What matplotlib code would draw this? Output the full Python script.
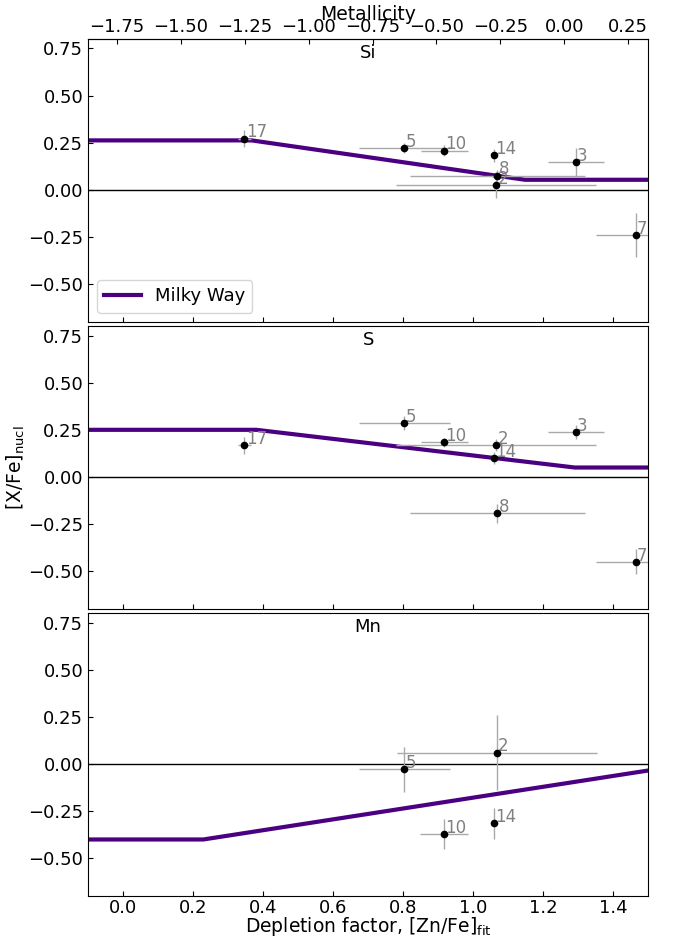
import numpy as np
import matplotlib
matplotlib.use("Agg")
import matplotlib.pyplot as plt

# Milky Way trends (depletion factor, [X/Fe])
mw_si_x = [-0.1, 0.367, 1.148, 1.5]
mw_si_y = [0.262, 0.262, 0.053, 0.053]
mw_s_x = [-0.1, 0.381, 1.29, 1.5]
mw_s_y = [0.25, 0.25, 0.05, 0.05]
mw_mn_x = [-0.1, 0.229, 1.5]
mw_mn_y = [-0.4, -0.4, -0.034]

# Si
si_id = ["17", "5", "10", "14", "8", "2", "3", "7"]
si_x = [0.346, 0.803, 0.917, 1.059, 1.069, 1.066, 1.293, 1.464]
si_xerr = [0.018, 0.13, 0.067, 0.0, 0.25, 0.286, 0.08, 0.114]
si_y = [0.27, 0.222, 0.207, 0.182, 0.074, 0.025, 0.145, -0.241]
si_yerr = [0.045, 0.025, 0.03, 0.035, 0.03, 0.07, 0.075, 0.115]

# S
s_id = ["17", "5", "10", "2", "14", "3", "8", "7"]
s_x = [0.346, 0.803, 0.917, 1.066, 1.059, 1.293, 1.069, 1.464]
s_xerr = [0.018, 0.13, 0.067, 0.286, 0.0, 0.08, 0.25, 0.114]
s_y = [0.167, 0.285, 0.183, 0.169, 0.1, 0.238, -0.192, -0.451]
s_yerr = [0.044, 0.037, 0.026, 0.03, 0.03, 0.037, 0.05, 0.066]

# Mn
mn_id = ["5", "2", "14", "10"]
mn_x = [0.803, 1.067, 1.059, 0.917]
mn_xerr = [0.13, 0.286, 0.0, 0.068]
mn_y = [-0.028, 0.06, -0.315, -0.371]
mn_yerr = [0.12, 0.2, 0.08, 0.078]

plt.rcParams['font.size'] = 13

fig, axes = plt.subplots(3, 1, figsize=(6.78, 9.4), dpi=100, sharex=True,
                         gridspec_kw={'hspace': 0.016})
fig.subplots_adjust(left=0.130, right=0.956, top=0.9585, bottom=0.0468)

panels = [
    ("Si", mw_si_x, mw_si_y, si_id, si_x, si_xerr, si_y, si_yerr),
    ("S", mw_s_x, mw_s_y, s_id, s_x, s_xerr, s_y, s_yerr),
    ("Mn", mw_mn_x, mw_mn_y, mn_id, mn_x, mn_xerr, mn_y, mn_yerr),
]

for ax, (el, mx, my, ids, x, xe, y, ye) in zip(axes, panels):
    ax.axhline(0, color='k', lw=1, zorder=1)
    ax.plot(mx, my, color='indigo', lw=3, label='Milky Way', zorder=2)
    ax.errorbar(x, y, xerr=xe, yerr=ye, fmt='o', color='k', ms=4.5,
                ecolor='darkgray', elinewidth=1, zorder=3)
    for i in range(len(ids)):
        ax.annotate(ids[i], (x[i], y[i]), xytext=(1, 1), textcoords='offset points',
                    color='gray', fontsize=12)
    ax.text(0.5, 0.95, el, transform=ax.transAxes, ha='center', va='center')
    ax.set_xlim(-0.1, 1.5)
    ax.set_ylim(-0.7, 0.8)
    ax.set_yticks([-0.5, -0.25, 0, 0.25, 0.5, 0.75])
    ax.tick_params(direction='in', top=False, right=False)
    ax.tick_params(axis='x', pad=2)

axes[0].legend(loc='lower left')
axes[1].set_ylabel("[X/Fe]$_{\\rm nucl}$", fontsize=13.5, labelpad=1)
axes[2].set_xlabel("Depletion factor, [Zn/Fe]$_{\\rm fit}$", fontsize=13.5, labelpad=-1)

top = axes[0].secondary_xaxis('top', functions=(lambda d: (d - 1.26) / 0.73,
                                                lambda m: 0.73 * m + 1.26))
top.set_xticks([-1.75, -1.5, -1.25, -1.0, -0.75, -0.5, -0.25, 0.0, 0.25])
top.tick_params(direction='in', pad=2)
top.set_xlabel("Metallicity", fontsize=13.5, labelpad=-1)

plt.savefig("out.png")
